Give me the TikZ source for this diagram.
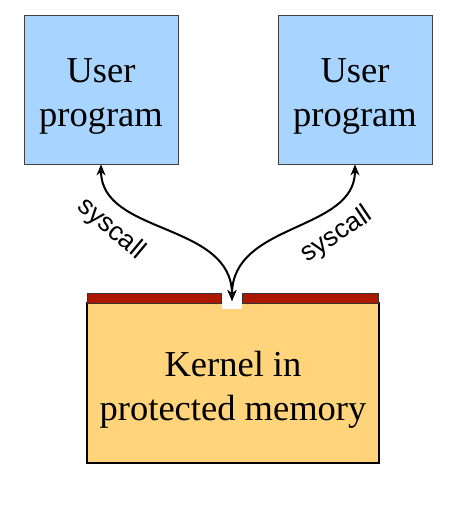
\documentclass[tikz,border=0pt]{standalone}
\usepackage{fontspec}
\setmainfont{Liberation Serif}
\newfontfamily\labelfont{Liberation Sans}
\usetikzlibrary{arrows.meta}
\definecolor{userblue}{RGB}{168,213,255}
\definecolor{kernelyellow}{RGB}{255,212,122}
\definecolor{guardred}{RGB}{170,24,0}
\tikzset{
  userbox/.style={draw=black!75, line width=0.8pt, fill=userblue, minimum width=154pt, minimum height=149pt, inner sep=0pt},
  kernelbox/.style={draw=black, line width=2.4pt, fill=kernelyellow, minimum width=292pt, minimum height=160pt, inner sep=0pt},
  guardbar/.style={draw=black!80, line width=0.8pt, fill=guardred},
  bigtext/.style={font=\fontsize{36.5}{44}\selectfont, align=center, inner sep=0pt},
  calllabel/.style={font=\labelfont\fontsize{26.5}{30}\selectfont, inner sep=0pt},
  callarrow/.style={line width=2pt, {Stealth[length=11pt,width=9pt]}-{Stealth[length=11pt,width=9pt]}}
}
\begin{document}
\begin{tikzpicture}[x=1pt,y=-1pt]
\useasboundingbox (0,0) rectangle (449,515);
% user programs
\node[userbox] (u1) at (101,89.5) {};
\node[userbox] (u2) at (355,89.5) {};
\node[bigtext] (t1) at (101,96.3) {User\\program};
\node[bigtext] (t2) at (355,96.3) {User\\program};
% kernel
\node[kernelbox] (k) at (233,383) {};
\node[bigtext] (kt) at (233,390) {Kernel in\\protected memory};
\draw[guardbar] (87,293) rectangle (221,303);
\draw[guardbar] (242,293) rectangle (378,303);
\fill[white] (221.5,292) rectangle (241.5,309);
\coordinate (gate) at (232,301);
% syscalls
\draw[callarrow] (u1.south) .. controls (101,235) and (232,222) .. (gate);
\draw[callarrow] (u2.south) .. controls (355,232) and (232,222) .. (gate);
\node[calllabel, rotate=-40] (l1) at (111,229) {syscall};
\node[calllabel, rotate=34] (l2) at (337,235) {syscall};
\end{tikzpicture}
\end{document}
